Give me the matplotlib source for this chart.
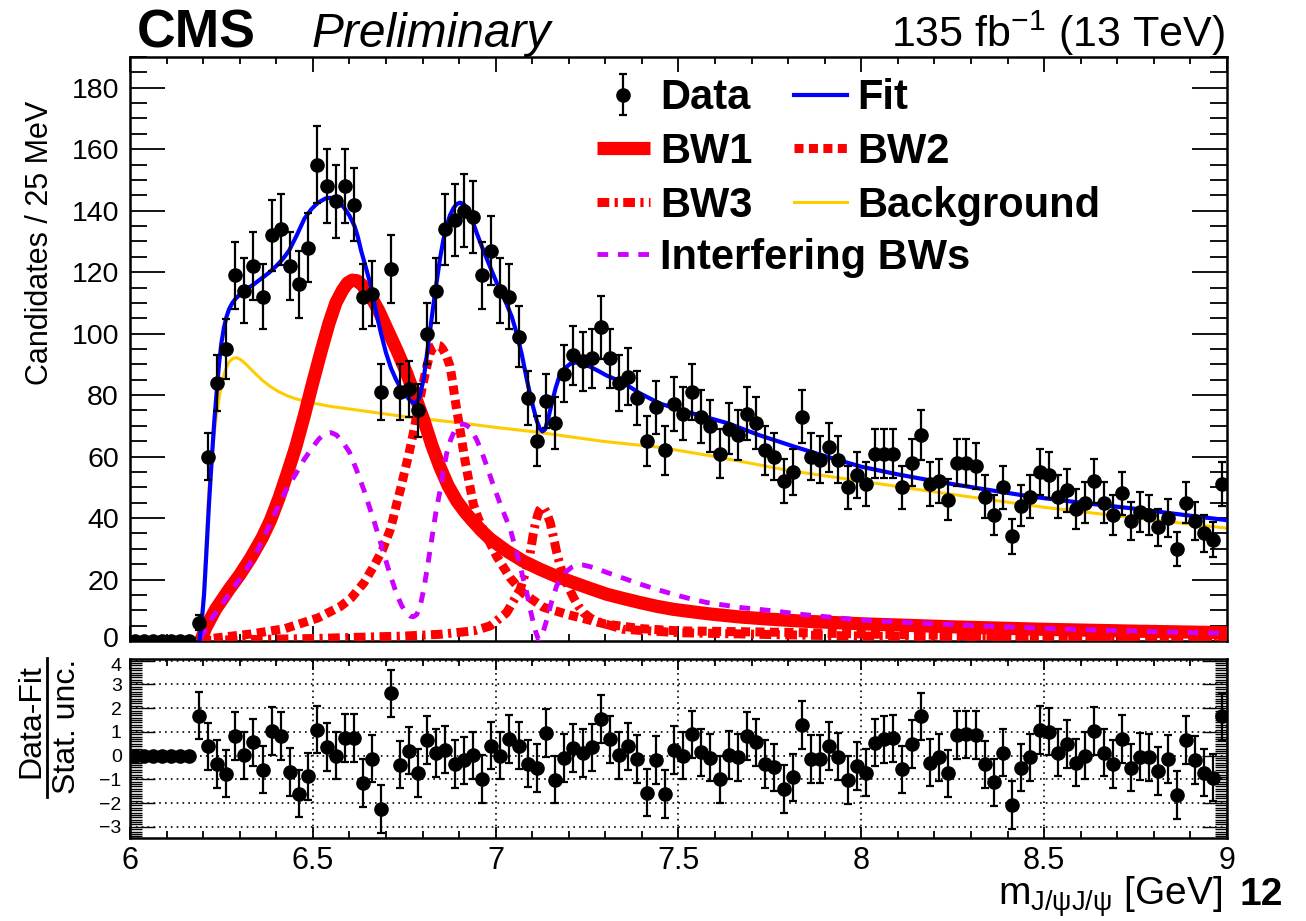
import numpy as np
import matplotlib
matplotlib.use("Agg")
import matplotlib.pyplot as plt
import matplotlib.transforms as mtransforms
from matplotlib.ticker import MultipleLocator, FuncFormatter
from matplotlib.font_manager import FontProperties
from matplotlib.lines import Line2D

plt.rcParams['font.family'] = ['Liberation Sans', 'DejaVu Sans']
plt.rcParams['mathtext.fontset'] = 'custom'
plt.rcParams['mathtext.rm'] = 'Liberation Sans'
plt.rcParams['mathtext.it'] = 'Liberation Sans:italic'
plt.rcParams['mathtext.bf'] = 'Liberation Sans:bold'

# ---------------- data ----------------
bin_lo = 6.0
bin_width = 0.025
counts = [0, 0, 0, 0, 0, 0, 0, 6, 60, 84,
          95, 119, 114, 122, 112, 132, 134, 122, 116, 128,
          155, 148, 143, 148, 142, 112, 113, 81, 121, 81,
          82, 75, 100, 114, 134, 137, 140, 138, 119, 127,
          114, 112, 99, 79, 65, 78, 71, 87, 93, 91,
          92, 102, 92, 84, 86, 79, 65, 76, 62, 77,
          74, 81, 73, 70, 61, 69, 67, 74, 71, 62,
          60, 52, 55, 73, 60, 59, 63, 59, 50, 54,
          51, 61, 61, 61, 50, 58, 67, 51, 52, 46,
          58, 58, 57, 47, 41, 50, 34, 44, 47, 55,
          54, 47, 49, 43, 45, 52, 45, 41, 48, 39,
          42, 41, 37, 40, 30, 45, 39, 35, 33, 51]

pulls = [0, 0, 0, 0, 0, 0, 0, 1.69, 0.39, -0.35,
         -0.76, 0.82, 0.01, 0.56, -0.59, 1.03, 0.82, -0.68, -1.60, -0.87,
         1.10, 0.37, 0.00, 0.75, 0.75, -1.15, -0.13, -2.25, 2.62, -0.38,
         0.21, -0.73, 0.65, 0.11, 0.25, -0.35, -0.20, 0.01, -0.99, 0.42,
         0.00, 0.70, 0.42, -0.34, -0.52, 0.96, -1.01, -0.10, 0.32, 0.11,
         0.35, 1.55, 0.68, 0.01, 0.39, -0.14, -1.56, -0.18, -1.61, 0.24,
         0.00, 0.90, 0.14, -0.08, -1.00, 0.03, -0.07, 0.83, 0.56, -0.35,
         -0.49, -1.41, -0.92, 1.30, -0.14, -0.14, 0.41, -0.04, -1.03, -0.44,
         -0.72, 0.55, 0.69, 0.73, -0.58, 0.49, 1.65, -0.30, -0.07, -0.75,
         0.87, 0.90, 0.87, -0.37, -1.13, 0.13, -2.08, -0.51, -0.07, 1.08,
         1.01, 0.13, 0.48, -0.30, 0.00, 1.04, 0.13, -0.35, 0.70, -0.51,
         -0.04, -0.07, -0.65, -0.15, -1.66, 0.66, -0.18, -0.72, -0.93, 1.65]

fit_x = [6.19, 6.196, 6.2025, 6.209, 6.216, 6.223, 6.23, 6.237, 6.2435, 6.25,
         6.257, 6.264, 6.271, 6.28, 6.289, 6.302, 6.316, 6.338, 6.36, 6.38,
         6.40, 6.418, 6.435, 6.456, 6.477, 6.496, 6.514, 6.535, 6.548, 6.559,
         6.573, 6.586, 6.60, 6.614, 6.623, 6.632, 6.645, 6.659, 6.672, 6.686,
         6.70, 6.714, 6.727, 6.739, 6.752, 6.766, 6.78, 6.792, 6.803, 6.816,
         6.83, 6.84, 6.848, 6.857, 6.866, 6.875, 6.885, 6.894, 6.903, 6.912,
         6.921, 6.934, 6.948, 6.961, 6.975, 6.989, 7.003, 7.017, 7.03, 7.044,
         7.057, 7.071, 7.085, 7.094, 7.103, 7.112, 7.121, 7.128, 7.135, 7.144,
         7.153, 7.164, 7.175, 7.189, 7.203, 7.217, 7.23, 7.257, 7.28, 7.303,
         7.348, 7.394, 7.45, 7.54, 7.633, 7.72, 7.815, 7.91, 8.0, 8.1,
         8.2, 8.33, 8.463, 8.6, 8.736, 8.87, 9.0]
fit_y = [0, 6, 15, 29, 44.6, 58, 70.7, 81, 90.2, 97,
         102, 105.5, 108, 110, 111.4, 112.9, 114.3, 116, 118, 119.8,
         122, 124.3, 127, 132, 137.4, 140.5, 142.6, 144, 144.2, 143.8,
         142.7, 140.9, 138.4, 135, 131.5, 127, 121.5, 115.4, 107.5, 100.3,
         93.8, 88.7, 85.2, 82.5, 80.2, 78.3, 77, 79.5, 85.2, 96.8,
         109.6, 118, 124.6, 130.5, 135, 138.5, 140.9, 142.2, 142.6, 142.2,
         140.9, 137.5, 132.8, 128.7, 124.6, 120.5, 116.5, 113, 109.6, 105.5,
         100.3, 93.5, 85.2, 80.3, 75.9, 71.8, 69, 68.2, 68.8, 72.5,
         77.1, 82.3, 86.4, 88.7, 90.1, 90.6, 90.4, 89.3, 87.9, 86.4,
         84.1, 80.6, 77.2, 74, 70.9, 67, 63.3, 59.8, 56.7, 54.2,
         52, 49.5, 47, 45, 43.2, 41.2, 39.3]

bkg_x = [6.189, 6.196, 6.2025, 6.209, 6.216, 6.226, 6.236, 6.245, 6.253, 6.262,
         6.271, 6.281, 6.291, 6.303, 6.316, 6.34, 6.362, 6.385, 6.408, 6.43,
         6.453, 6.50, 6.55, 6.63, 6.75, 6.90, 7.0, 7.11, 7.29, 7.45,
         7.6, 7.8, 8.0, 8.2, 8.5, 8.75, 9.0]
bkg_y = [0, 8, 18, 34, 50, 63, 73, 80, 85, 88.5,
         90.8, 91.9, 92.2, 91.5, 90.2, 87.3, 84.8, 82.7, 81, 79.8,
         78.8, 77.4, 76.3, 75, 73, 71, 69.5, 68, 65, 63,
         60, 55.5, 52, 48.5, 43.5, 40, 36.7]

bw1_x = [6.193, 6.207, 6.234, 6.271, 6.30, 6.33, 6.362, 6.385, 6.408, 6.43,
         6.453, 6.476, 6.499, 6.522, 6.544, 6.563, 6.581, 6.595, 6.608, 6.621,
         6.635, 6.659, 6.68, 6.705, 6.732, 6.757, 6.78, 6.803, 6.826, 6.848,
         6.87, 6.894, 6.917, 6.939, 6.962, 6.985, 7.03, 7.075, 7.122, 7.167,
         7.213, 7.26, 7.304, 7.35, 7.395, 7.44, 7.486, 7.578, 7.669, 7.75,
         7.833, 8.0, 8.25, 8.5, 8.75, 9.0]
bw1_y = [0, 4.3, 10.3, 16.8, 21.5, 27, 33.7, 39.5, 46.7, 54.5,
         63, 73, 83.7, 94, 103.3, 110, 114.1, 116.5, 117.4, 117.2,
         115.8, 112, 107.5, 101, 94, 87, 79.5, 72, 63.5, 56.5,
         50.5, 45.5, 41.8, 38.8, 35.8, 33.2, 29.3, 26, 23.3, 21,
         19, 17, 15.2, 13.8, 12.5, 11.3, 10.3, 8.9, 7.8, 7.1,
         6.5, 5.6, 4.6, 3.8, 3.2, 2.7]

bw2_x = [6.19, 6.25, 6.332, 6.423, 6.514, 6.575, 6.605, 6.64, 6.666, 6.69,
         6.711, 6.72, 6.73, 6.739, 6.748, 6.762, 6.775, 6.787, 6.798, 6.81,
         6.821, 6.83, 6.84, 6.848, 6.855, 6.865, 6.875, 6.882, 6.889, 6.898,
         6.907, 6.916, 6.926, 6.939, 6.952, 6.967, 7.003, 7.04, 7.076, 7.13,
         7.2, 7.25, 7.3, 7.4, 7.5, 7.8, 8.0, 8.5, 9.0]
bw2_y = [0.3, 1.2, 2.3, 4, 7.5, 11.2, 14, 19, 24.2, 29.5,
         36, 40, 45, 49, 53.6, 60.5, 67.7, 75, 81.8, 88.5,
         93.8, 95.6, 96.2, 96, 95, 92.8, 89.5, 84.5, 78.6, 72,
         65.5, 58.8, 52.5, 44.5, 40, 36, 27.5, 20.5, 15.5, 11,
         8.5, 7, 5.5, 4, 3.3, 2.8, 2.3, 1.3, 0.6]

bw3_x = [6.19, 6.5, 6.75, 6.85, 6.94, 6.985, 7.03, 7.067, 7.09, 7.097,
         7.103, 7.109, 7.115, 7.12, 7.126, 7.132, 7.138, 7.143, 7.149, 7.158,
         7.167, 7.176, 7.185, 7.2, 7.213, 7.226, 7.24, 7.26, 7.286, 7.35,
         7.5, 7.8, 8.0, 8.5, 9.0]
bw3_y = [0.2, 0.8, 1.6, 2.2, 3.3, 4.9, 9.2, 16.8, 25.5, 30.5,
         35, 38.5, 41, 42.6, 43.5, 43.3, 42, 40.5, 38.6, 33.8,
         28.8, 24.7, 21.2, 17.3, 14.1, 11.4, 9.2, 7.4, 6, 3.8,
         2.7, 2, 1.6, 1.1, 0.8]

int_x = [6.193, 6.225, 6.271, 6.316, 6.34, 6.362, 6.385, 6.408, 6.43, 6.453,
         6.476, 6.499, 6.517, 6.535, 6.55, 6.565, 6.583, 6.6, 6.62, 6.64,
         6.655, 6.67, 6.685, 6.70, 6.715, 6.73, 6.743, 6.755, 6.766, 6.775,
         6.784, 6.793, 6.803, 6.814, 6.825, 6.836, 6.848, 6.857, 6.866, 6.877,
         6.889, 6.90, 6.91, 6.92, 6.93, 6.948, 6.962, 6.976, 6.994, 7.012,
         7.026, 7.04, 7.051, 7.062, 7.074, 7.085, 7.094, 7.103, 7.11, 7.117,
         7.124, 7.132, 7.14, 7.153, 7.167, 7.18, 7.195, 7.208, 7.222, 7.24,
         7.258, 7.28, 7.304, 7.35, 7.395, 7.44, 7.486, 7.53, 7.578, 7.669,
         7.76, 7.833, 7.92, 8.0, 8.18, 8.367, 8.53, 8.7, 8.85, 9.0]
int_y = [1, 7.6, 15.2, 22.8, 27.5, 32.6, 38.5, 44.6, 49.8, 54.3,
         59, 63, 65.8, 67.5, 67.8, 67, 64.5, 61.5, 55.5, 49,
         43.5, 38, 32, 26, 20.3, 15, 11.5, 9.2, 8.1, 7.9,
         8.6, 11, 16.6, 24.5, 33, 41.5, 49, 55.5, 61, 65.5,
         68.8, 70.3, 70.6, 70.2, 69.3, 65.5, 61.5, 56.8, 50.5, 44.8,
         40.5, 36.4, 31.5, 26.6, 21, 15.8, 10.5, 6, 2.8, 0.5,
         1.2, 3.8, 7, 12.8, 18, 20.8, 22.8, 24, 24.7, 24.7,
         24.2, 23.4, 22.3, 20.4, 18.5, 16.8, 15.2, 13.8, 12.5, 10.9,
         9.8, 8.7, 7.7, 6.8, 5.7, 4.7, 4, 3.4, 2.9, 2.5]

# ---------------- figure ----------------
W, H = 1306, 921
fig = plt.figure(figsize=(W / 100, H / 100), dpi=100)
ax = fig.add_axes([130 / W, 1 - 641 / H, 1097 / W, 584 / H])
ax2 = fig.add_axes([130 / W, 1 - 838 / H, 1097 / W, 179 / H])

centers = bin_lo + bin_width * (np.arange(len(counts)) + 0.5)
counts_a = np.array(counts, dtype=float)
errs = np.sqrt(counts_a)

RED = '#ff0000'
h_bkg, = ax.plot(bkg_x, bkg_y, color='#ffcc00', lw=2.2, zorder=2)
h_bw1, = ax.plot(bw1_x, bw1_y, color=RED, lw=9.5, solid_capstyle='butt',
                 solid_joinstyle='round', zorder=3)
h_bw2, = ax.plot(bw2_x, bw2_y, color=RED, lw=6.5, linestyle=(0, (1.0, 0.6)), zorder=3)
h_bw3, = ax.plot(bw3_x, bw3_y, color=RED, lw=6.5, linestyle=(0, (1.3, 0.6, 0.35, 0.6)), zorder=3)
h_int, = ax.plot(int_x, int_y, color='#cc00ff', lw=3.5, linestyle=(0, (2.2, 2.0)), zorder=4)
h_fit, = ax.plot(fit_x, fit_y, color='#0000ff', lw=3.0, zorder=5)
h_data = ax.errorbar(centers, counts, yerr=errs, fmt='o', color='black', ms=9.5,
                     elinewidth=1.6, capsize=3, capthick=1.6, zorder=6)

ax.set_xlim(6, 9)
ax.set_ylim(0, 190)

def fmt(v, p):
    return f'{v:g}'.replace('-', '\u2212')

for a in (ax, ax2):
    a.xaxis.set_major_locator(MultipleLocator(0.5))
    a.xaxis.set_minor_locator(MultipleLocator(0.1))
    for s in a.spines.values():
        s.set_linewidth(1.8)

ax.yaxis.set_major_locator(MultipleLocator(20))
ax.yaxis.set_minor_locator(MultipleLocator(5))
ax.yaxis.set_major_formatter(FuncFormatter(fmt))
ax.tick_params(axis='x', which='both', direction='in', top=True, bottom=True,
               labelbottom=False, width=1.3)
ax.tick_params(axis='x', which='major', length=10.5)
ax.tick_params(axis='x', which='minor', length=5)
ax.tick_params(axis='y', which='both', direction='in', left=True, right=True, width=1.3,
               labelsize=20.5, pad=8)
ax.tick_params(axis='y', which='major', length=25)
ax.tick_params(axis='y', which='minor', length=12.5)

# ratio panel
pull_err = np.where(counts_a > 0, 1.0, 0.0)
ax2.errorbar(centers, pulls, yerr=pull_err, fmt='o', color='black', ms=9.5,
             elinewidth=1.6, capsize=3, capthick=1.6, zorder=6)
ax2.set_xlim(6, 9)
ax2.set_ylim(-3.47, 4.07)
ax2.yaxis.set_major_locator(MultipleLocator(1))
ax2.yaxis.set_minor_locator(MultipleLocator(0.1))
ax2.yaxis.set_major_formatter(FuncFormatter(fmt))
ax2.xaxis.set_major_formatter(FuncFormatter(fmt))
ax2.grid(True, which='major', linestyle=(0, (1, 2.5)), color='black', lw=1.2)
ax2.tick_params(axis='x', which='both', direction='in', top=True, bottom=True,
                labelsize=22, pad=6, width=1.3)
ax2.tick_params(axis='x', which='major', length=8)
ax2.tick_params(axis='x', which='minor', length=5)
ax2.tick_params(axis='y', which='both', direction='in', left=True, right=True,
                labelsize=14, pad=6, width=1.0)
ax2.tick_params(axis='y', which='major', length=18)
ax2.tick_params(axis='y', which='minor', length=8.5)

# keep the main-panel "0" and the ratio-panel "4" labels from touching
fig.canvas.draw()
up = mtransforms.ScaledTranslation(0, 3 / 72, fig.dpi_scale_trans)
down = mtransforms.ScaledTranslation(0, -3 / 72, fig.dpi_scale_trans)
for t in ax.yaxis.get_major_ticks():
    if abs(t.get_loc()) < 1e-9:
        t.label1.set_transform(t.label1.get_transform() + up)
for t in ax2.yaxis.get_major_ticks():
    if abs(t.get_loc() - 4) < 1e-9:
        t.label1.set_transform(t.label1.get_transform() + down)

# legends
lp = FontProperties(family='Liberation Sans', weight='bold', size=30)
leg1 = ax.legend(handles=[h_data, h_bw1, h_bw3, h_fit, h_bw2, h_bkg],
                 labels=['Data', 'BW1', 'BW3', 'Fit', 'BW2', 'Background'],
                 ncol=2, loc='center left', bbox_to_anchor=(597 / W, 1 - 152 / H),
                 bbox_transform=fig.transFigure, frameon=False, borderpad=0,
                 borderaxespad=0, handlelength=1.27, handletextpad=0.24,
                 columnspacing=1.0, labelspacing=0.33, prop=lp)
ax.add_artist(leg1)
ax.legend(handles=[h_int], labels=['Interfering BWs'], loc='center left',
          bbox_to_anchor=(597 / W, 1 - 258 / H), bbox_transform=fig.transFigure,
          frameon=False, borderpad=0, borderaxespad=0, handlelength=1.27,
          handletextpad=0.24, prop=lp)

# header
fig.text(137 / W, 1 - 47 / H, 'CMS', fontsize=38.5, fontweight='bold', ha='left', va='baseline')
fig.text(312 / W, 1 - 47 / H, 'Preliminary', fontsize=34.5, fontstyle='italic', ha='left', va='baseline')
fig.text(1225 / W, 1 - 47 / H, '135 fb$^{-1}$ (13 TeV)', fontsize=31, ha='right', va='baseline')

# axis labels
fig.text(40 / W, 1 - 243 / H, 'Candidates / 25 MeV', fontsize=22, rotation=90,
         ha='center', va='center')
fig.text(31 / W, 1 - 721 / H, 'Data-Fit', fontsize=23, rotation=90, ha='center', va='center')
fig.text(67 / W, 1 - 726 / H, 'Stat. unc.', fontsize=23, rotation=90, ha='center', va='center')
fig.add_artist(Line2D([47 / W, 47 / W], [1 - 797 / H, 1 - 658 / H], color='black', lw=2,
                      transform=fig.transFigure))
fig.text(1222 / W, 1 - 905 / H, 'm$_{\\mathrm{J/ψJ/ψ}}$ [GeV]', fontsize=28,
         ha='right', va='baseline')
fig.text(1240 / W, 1 - 905 / H, '12', fontsize=28, fontweight='bold', ha='left', va='baseline')

fig.savefig('out.png', dpi=100)
